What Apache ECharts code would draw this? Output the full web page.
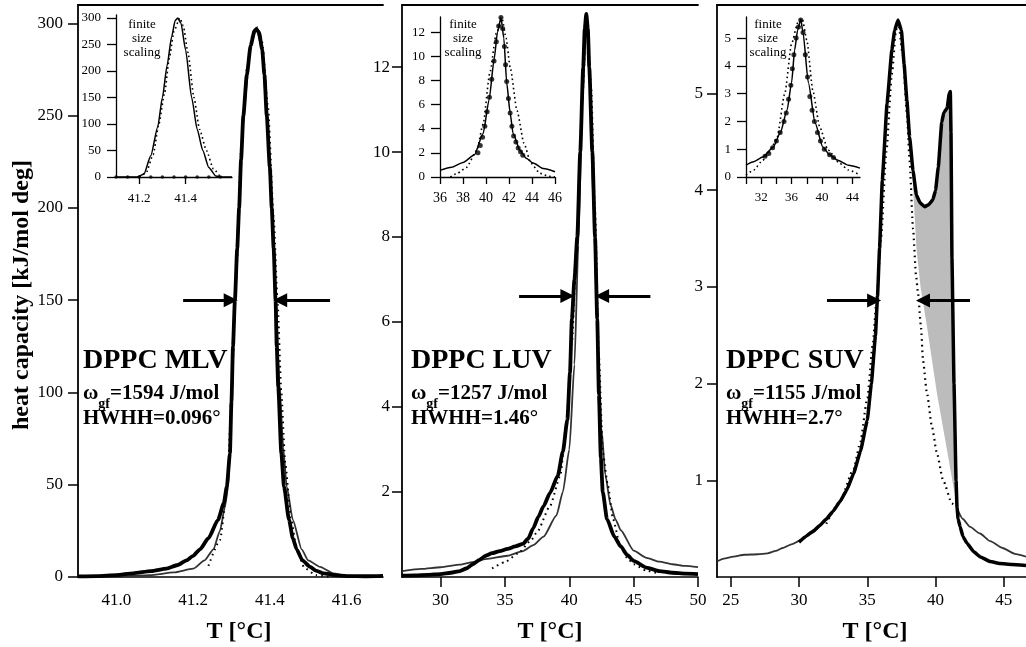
<!DOCTYPE html>
<html><head><meta charset="utf-8">
<script src="https://cdn.jsdelivr.net/npm/echarts@6/dist/echarts.min.js"></script>
<style>html,body{margin:0;padding:0;background:#fff}#c{width:1026px;height:647px}</style>
</head><body><div id="c"></div>
<script>
// ---------------- DATA ----------------
// Panel 1: DPPC MLV  [T, cp]
const mlvExp = [[40.90,0.3],[40.95,0.5],[41.00,1.0],[41.044,2.0],[41.09,3.2],[41.131,4.5],[41.16,6.5],[41.183,9],[41.20,11.5],[41.218,15],[41.24,21],[41.265,31],[41.28,40],[41.288,49],[41.296,67],[41.30,95],[41.304,125],[41.309,150],[41.315,178],[41.32,200],[41.325,226],[41.331,250],[41.34,272],[41.35,288],[41.36,296],[41.365,297],[41.372,295],[41.38,286],[41.386,272],[41.392,250],[41.40,222],[41.405,200],[41.41,178],[41.415,150],[41.418,125],[41.422,103],[41.43,67],[41.437,49],[41.45,31],[41.46,21],[41.47,15],[41.485,9],[41.505,5.5],[41.52,3.5],[41.54,2],[41.57,1],[41.60,0.5],[41.65,0.4],[41.695,0.6]];
const mlvFit = [[40.90,0],[41.00,0.2],[41.088,1],[41.15,2.5],[41.20,4.5],[41.23,9],[41.253,15],[41.27,25],[41.283,38],[41.292,50],[41.30,90],[41.309,150],[41.32,205],[41.331,250],[41.35,288],[41.365,297],[41.38,286],[41.392,250],[41.405,205],[41.415,155],[41.425,105],[41.435,70],[41.444,49],[41.46,31],[41.483,15],[41.50,9],[41.531,5.5],[41.565,2],[41.60,0.7],[41.695,0.2]];
const mlvModel = [[41.24,6],[41.27,20],[41.29,50],[41.30,100],[41.312,160],[41.325,230],[41.34,275],[41.355,294],[41.368,298],[41.38,290],[41.395,255],[41.41,195],[41.42,150],[41.43,100],[41.44,62],[41.455,32],[41.47,15],[41.49,5],[41.52,1],[41.56,0]];
const mlvArrows = [[41.174,150,41.298,150],[41.557,150,41.427,150]];

// Panel 2: DPPC LUV
const luvExp = [[27,0.03],[28,0.04],[29,0.05],[30,0.07],[30.8,0.1],[31.5,0.14],[32,0.2],[32.5,0.3],[33,0.4],[33.5,0.5],[34,0.56],[34.6,0.61],[35.2,0.66],[35.8,0.72],[36.4,0.78],[36.8,0.9],[37.2,1.15],[37.6,1.42],[38,1.67],[38.5,1.98],[39.1,2.38],[39.5,2.95],[39.85,3.7],[40.05,4.8],[40.2,6.07],[40.4,7.0],[40.62,8],[40.85,10],[41.08,12],[41.2,12.9],[41.32,13.25],[41.44,12.9],[41.55,12],[41.79,10],[42.0,8],[42.17,6.07],[42.3,4.3],[42.45,2.8],[42.6,2.0],[42.93,1.36],[43.5,0.95],[44,0.72],[44.5,0.52],[45,0.38],[46,0.22],[47,0.14],[48,0.1],[49,0.08],[50,0.07]];
const luvFit = [[27,0.14],[28.5,0.19],[30,0.23],[31.5,0.29],[32.5,0.35],[33.5,0.42],[35.2,0.5],[36.4,0.61],[37.2,0.75],[38,0.95],[39,1.45],[39.5,2.0],[40,3.0],[40.4,5.0],[40.7,7.8],[41.0,11],[41.32,13.2],[41.6,11.5],[41.9,8.5],[42.2,5.6],[42.5,3.5],[42.8,2.4],[43.2,1.7],[43.6,1.35],[44,1.1],[45,0.62],[46,0.45],[47,0.36],[48,0.3],[49,0.26],[50,0.23]];
const luvModel = [[34,0.2],[35,0.35],[36,0.55],[37,0.85],[37.5,1.06],[38.5,1.67],[39.3,2.38],[39.8,3.7],[40.2,5.5],[40.6,8],[41.0,11.2],[41.35,13.2],[41.7,11.5],[42.0,8.6],[42.3,5.2],[42.6,2.94],[43.0,2.15],[43.4,1.36],[43.96,0.73],[44.5,0.45],[45,0.3],[46,0.15],[47,0.08]];
const luvArrows = [[36.1,6.61,39.85,6.61],[46.3,6.61,42.55,6.61]];

// Panel 3: DPPC SUV
const suvExp = [[30.0,0.36],[30.5,0.42],[31,0.47],[31.5,0.53],[32,0.6],[32.5,0.68],[33,0.78],[33.5,0.9],[34,1.07],[34.5,1.3],[35,1.62],[35.3,2.0],[35.6,2.5],[35.75,2.9],[35.9,3.4],[36.1,4.1],[36.45,4.9],[36.8,5.45],[37.0,5.65],[37.25,5.76],[37.5,5.65],[37.7,5.3],[37.9,4.93],[38.1,4.55],[38.35,4.2],[38.6,3.95],[38.86,3.87],[39.2,3.83],[39.5,3.85],[39.8,3.9],[40.0,4.0],[40.2,4.24],[40.45,4.7],[40.6,4.8],[40.85,4.85],[41.0,5.0],[41.08,5.02],[41.13,4.6],[41.2,3.3],[41.35,2.0],[41.5,1.0],[41.57,0.72],[41.65,0.6],[41.8,0.52],[42.0,0.42],[42.3,0.35],[42.8,0.26],[43.25,0.21],[44,0.16],[44.7,0.14],[45.6,0.13],[46.62,0.12]];
const suvFitLeft = [[24,0.16],[24.5,0.19],[25.2,0.21],[26,0.23],[27,0.235],[27.7,0.245],[28.3,0.27],[28.8,0.3],[29.5,0.34],[30.1,0.38],[31,0.46],[32,0.59],[33,0.77],[33.5,0.89],[34,1.06],[34.5,1.29],[35,1.62],[35.3,2.0],[35.6,2.5]];
const suvFitRight = [[41.57,0.71],[42,0.6],[42.5,0.52],[43.25,0.45],[44,0.37],[44.9,0.3],[45.8,0.24],[46.62,0.21]];
const suvModel = [[32,0.55],[33,0.78],[34,1.12],[34.5,1.4],[35,1.85],[35.4,2.4],[35.7,2.9],[36,3.5],[36.4,4.4],[36.8,5.2],[37.1,5.65],[37.25,5.76],[37.6,5.4],[37.9,4.8],[38.1,4.3],[38.35,3.6],[38.57,3.12],[38.71,2.94],[38.93,2.59],[39.08,2.24],[39.37,1.9],[39.74,1.55],[40.1,1.28],[40.55,1.0],[41.2,0.76],[41.57,0.71]];
const suvPeakEdge = [[37.9,4.93],[38.1,4.5],[38.35,4.05],[38.6,3.4],[38.9,3.0],[39.37,2.59],[40.1,1.9],[40.84,1.31],[41.57,0.72]];
const suvArrows = [[32.05,2.86,35.5,2.86],[42.52,2.86,39.08,2.86]];

// Insets (finite size scaling)
const in1Line = [[41.10,0],[41.19,0],[41.22,5],[41.25,40],[41.28,95],[41.30,150],[41.32,210],[41.34,265],[41.355,295],[41.366,300],[41.38,290],[41.40,240],[41.426,150],[41.45,90],[41.474,50],[41.50,18],[41.53,2],[41.56,0],[41.60,0]];
const in1Model = [[41.20,0],[41.23,8],[41.26,42],[41.285,100],[41.31,160],[41.33,225],[41.35,275],[41.375,300],[41.39,285],[41.41,235],[41.436,150],[41.46,90],[41.49,50],[41.52,15],[41.55,0]];
const in1Points = [[41.10,0],[41.15,0],[41.20,0],[41.25,0],[41.30,0],[41.35,0],[41.40,0],[41.45,0],[41.50,0],[41.55,0]];
const in2Line = [[36,0.55],[37,0.8],[38,1.2],[39,1.85],[39.75,3.6],[40.27,6.4],[40.7,9.7],[41.0,12],[41.3,13.2],[41.55,11.5],[41.8,7.8],[42.1,5.3],[42.35,3.6],[42.96,2.2],[43.5,1.55],[44.1,1.15],[45,0.7],[46,0.43]];
const in2Model = [[36.9,0],[37.5,0.3],[38.3,0.8],[39.2,2.2],[39.75,4.4],[40.33,8.6],[40.9,11.9],[41.4,13.1],[41.75,11.5],[42.1,9.1],[42.7,5.5],[43.3,2.8],[43.9,1.15],[44.7,0.3],[45.5,0.05],[46,0]];
const in2Points = [[39.3,2.0],[39.5,2.6],[39.7,3.3],[39.9,4.2],[40.1,5.4],[40.3,6.6],[40.5,8.1],[40.7,9.6],[40.9,11.2],[41.1,12.5],[41.3,13.2],[41.45,12.3],[41.6,10.8],[41.7,9.3],[41.8,7.9],[41.95,6.5],[42.1,5.3],[42.25,4.2],[42.4,3.4],[42.6,2.9],[42.8,2.4],[43.0,2.1],[43.2,1.8]];
const in3Line = [[30,0.43],[31,0.55],[32.2,0.72],[33.6,1.08],[34.5,1.58],[35.4,2.4],[36,3.4],[36.4,4.57],[36.8,5.3],[37.2,5.68],[37.5,5.2],[38.2,3.4],[39.1,1.94],[40.1,1.08],[41,0.8],[42,0.61],[43.5,0.42],[45,0.32]];
const in3Model = [[30,0.07],[31,0.25],[32.2,0.6],[33.2,0.95],[34.07,1.4],[35.1,3.0],[36,4.8],[36.8,5.55],[37.4,5.7],[38,4.93],[38.8,3.1],[39.7,1.8],[40.8,0.97],[42.3,0.5],[43.5,0.25],[45,0.07]];
const in3Points = [[32.5,0.75],[33,0.85],[33.5,1.05],[34,1.3],[34.5,1.6],[35,2.0],[35.3,2.3],[35.6,2.8],[35.9,3.3],[36.1,3.9],[36.3,4.4],[36.6,5.0],[36.9,5.4],[37.2,5.65],[37.5,5.2],[37.8,4.4],[38.1,3.6],[38.4,2.9],[38.7,2.4],[39.0,2.0],[39.4,1.6],[39.8,1.3],[40.3,1.0],[41.0,0.8],[41.5,0.7]];

// Tick labels
const mlvXTicks = [41.0,41.2,41.4,41.6];
const mlvYTicks = [0,50,100,150,200,250,300];
const luvXTicks = [30,35,40,45,50];
const luvYTicks = [2,4,6,8,10,12];
const suvXTicks = [25,30,35,40,45];
const suvYTicks = [1,2,3,4,5];
const in1XTicks = [41.2,41.4];
const in1YTicks = [0,50,100,150,200,250,300];
const in2XTicks = [36,38,40,42,44,46];
const in2YTicks = [0,2,4,6,8,10,12];
const in3XTicks = [30,32,34,36,38,40,42,44];
const in3XLabels = [32,36,40,44];
const in3YTicks = [0,1,2,3,4,5];

// ---------------- CHART ----------------
const FF = '"Liberation Serif", "Times New Roman", serif';
const chart = echarts.init(document.getElementById('c'));

function mkX(grid, min, max, tickVals, labelVals, opt) {
  opt = opt || {};
  return {
    type:'value', gridIndex:grid, min:min, max:max, position:'bottom',
    axisLine:{show:true, onZero:false, lineStyle:{color:'#000', width:opt.lw||1.5}},
    axisTick:{show:!!tickVals, customValues:tickVals||[], length:opt.tl||10, lineStyle:{color:'#000', width:opt.lw||1.5}},
    axisLabel:{show:true, customValues:labelVals, margin:opt.margin||15, color:'#000', fontFamily:FF, fontSize:opt.fs||17,
      formatter: opt.fmt || (v => String(v))},
    splitLine:{show:false}
  };
}
function mkTop(grid, min, max) {
  return {type:'value', gridIndex:grid, min:min, max:max, position:'top',
    axisLine:{show:true, onZero:false, lineStyle:{color:'#000', width:1.8}},
    axisTick:{show:false}, axisLabel:{show:false}, splitLine:{show:false}};
}
function mkY(grid, min, max, vals, opt) {
  opt = opt || {};
  return {
    type:'value', gridIndex:grid, min:min, max:max,
    axisLine:{show:true, onZero:false, lineStyle:{color:'#000', width:opt.lw||1.8}},
    axisTick:{show:true, customValues:vals, length:opt.tl||10, lineStyle:{color:'#000', width:opt.lw||1.5}},
    axisLabel:{show:true, customValues:vals, margin:opt.margin||15, color:'#000', fontFamily:FF, fontSize:opt.fs||17},
    splitLine:{show:false}
  };
}
function ln(xi, yi, data, color, width, type, z, smooth) {
  return {type:'line', xAxisIndex:xi, yAxisIndex:yi, data:data, showSymbol:false, symbol:'none',
    smooth: smooth === undefined ? 0.2 : smooth, smoothMonotone:'x', silent:true, z:z,
    lineStyle:{color:color, width:width, type:type||'solid'}};
}
function dots(xi, yi, data, size) {
  return {type:'scatter', xAxisIndex:xi, yAxisIndex:yi, data:data, symbol:'circle', symbolSize:size,
    itemStyle:{color:'#000'}, silent:true, z:6};
}
function arrowLine(xi, yi, arr) {
  return {type:'line', xAxisIndex:xi, yAxisIndex:yi, data:[], silent:true, z:8,
    markLine:{silent:true, animation:false, symbol:['none','triangle'], symbolSize:14,
      label:{show:false}, lineStyle:{color:'#000', width:3, type:'solid'},
      itemStyle:{color:'#000'},
      emphasis:{disabled:true},
      data: arr.map(a => [{coord:[a[0],a[1]]},{coord:[a[2],a[3]]}])}};
}
const DOT = [1.6, 4];

const option = {
  animation:false,
  backgroundColor:'#fff',
  textStyle:{fontFamily:FF},
  grid:[
    {left:78, top:5, width:305, height:572},
    {left:402, top:5, width:296, height:572},
    {left:717, top:5, width:309, height:572},
    {left:116, top:15, width:116, height:162},
    {left:440, top:17, width:115, height:160},
    {left:746, top:17, width:114, height:160}
  ],
  xAxis:[
    Object.assign(mkX(0, 40.9, 41.695, null, mlvXTicks, {fmt:v=>v.toFixed(1)}), {axisTick:{show:false}}),
    mkX(1, 27, 50, luvXTicks, luvXTicks),
    mkX(2, 24, 46.62, suvXTicks, suvXTicks),
    mkTop(0, 40.9, 41.695), mkTop(1, 27, 50), mkTop(2, 24, 46.62),
    mkX(3, 41.1, 41.6, in1XTicks, in1XTicks, {fs:13, tl:7, lw:1.3, margin:15, fmt:v=>v.toFixed(1)}),
    mkX(4, 36, 46, in2XTicks, in2XTicks, {fs:14, tl:7, lw:1.3, margin:14}),
    mkX(5, 30, 45, in3XTicks, in3XLabels, {fs:13, tl:7, lw:1.3, margin:14})
  ],
  yAxis:[
    mkY(0, 0, 310, mlvYTicks),
    mkY(1, 0, 13.46, luvYTicks, {margin:12}),
    mkY(2, 0, 5.915, suvYTicks, {margin:14}),
    mkY(3, 0, 305.6, in1YTicks, {fs:13, tl:9, lw:1.3, margin:15}),
    mkY(4, 0, 13.25, in2YTicks, {fs:13, tl:9, lw:1.3, margin:15}),
    mkY(5, 0, 5.76, in3YTicks, {fs:13, tl:9, lw:1.3, margin:15})
  ],
  series:[
    // panel 1
    ln(0,0, mlvFit, '#333', 1.8, 'solid', 2),
    ln(0,0, mlvModel, '#000', 2, DOT, 3),
    ln(0,0, mlvExp, '#000', 3.8, 'solid', 4),
    arrowLine(0,0, mlvArrows),
    // panel 2
    ln(1,1, luvFit, '#333', 1.8, 'solid', 2),
    ln(1,1, luvModel, '#000', 2, DOT, 3),
    ln(1,1, luvExp, '#000', 3.8, 'solid', 4),
    arrowLine(1,1, luvArrows),
    // panel 3
    {type:'custom', xAxisIndex:2, yAxisIndex:2, data:[[39,3]], silent:true, z:1, clip:true,
      renderItem:function(params, api){
        const lo = suvPeakEdge[0][0], hi = suvPeakEdge[suvPeakEdge.length-1][0];
        const upper = suvExp.filter(p => p[0] >= lo && p[0] <= hi);
        const pts = upper.map(p => api.coord(p)).concat(suvPeakEdge.slice().reverse().map(p => api.coord(p)));
        return {type:'polygon', shape:{points:pts}, style:{fill:'#bcbcbc', stroke:null}};
      }},
    ln(2,2, suvFitLeft, '#333', 1.8, 'solid', 2),
    ln(2,2, suvFitRight, '#333', 1.8, 'solid', 2),
    ln(2,2, suvModel, '#000', 2.2, DOT, 3),
    ln(2,2, suvExp, '#000', 3.5, 'solid', 4, 0.1),
    arrowLine(2,2, suvArrows),
    // insets
    ln(6,3, in1Line, '#000', 1.5, 'solid', 5),
    ln(6,3, in1Model, '#000', 1.6, [1.6,3], 5),
    dots(6,3, in1Points, 3.5),
    ln(7,4, in2Line, '#000', 1.5, 'solid', 5),
    ln(7,4, in2Model, '#000', 1.6, [1.6,3], 5),
    dots(7,4, in2Points, 5),
    ln(8,5, in3Line, '#000', 1.5, 'solid', 5),
    ln(8,5, in3Model, '#000', 1.6, [1.6,3], 5),
    dots(8,5, in3Points, 5)
  ],
  graphic:[
    {type:'text', x:22, y:295, rotation:Math.PI/2, style:{text:'heat capacity [kJ/mol deg]', font:'bold 24px ' + FF, fill:'#000', align:'center', verticalAlign:'middle', textAlign:'center', textVerticalAlign:'middle'}},
    {type:'text', x:239, y:632, style:{text:'T [°C]', font:'bold 24px ' + FF, fill:'#000', align:'center', verticalAlign:'middle', textAlign:'center', textVerticalAlign:'middle'}},
    {type:'text', x:550, y:632, style:{text:'T [°C]', font:'bold 24px ' + FF, fill:'#000', align:'center', verticalAlign:'middle', textAlign:'center', textVerticalAlign:'middle'}},
    {type:'text', x:875, y:632, style:{text:'T [°C]', font:'bold 24px ' + FF, fill:'#000', align:'center', verticalAlign:'middle', textAlign:'center', textVerticalAlign:'middle'}}
  ].concat(
    [[83,'DPPC MLV','1594 J/mol','HWHH=0.096°'],[411,'DPPC LUV','1257 J/mol','HWHH=1.46°'],[726,'DPPC SUV','1155 J/mol','HWHH=2.7°']].flatMap(t => [
      {type:'text', x:t[0], y:361, z:20, style:{text:t[1], font:'bold 28px ' + FF, fill:'#000', align:'left', verticalAlign:'middle', textAlign:'left', textVerticalAlign:'middle'}},
      {type:'text', x:t[0], y:383, z:20, style:{text:'{a|ω}{b|gf}{a|=' + t[2] + '}', fill:'#000', align:'left', verticalAlign:'top', textAlign:'left', textVerticalAlign:'top',
        rich:{a:{font:'bold 21px ' + FF, lineHeight:20, verticalAlign:'top', fill:'#000'}, b:{font:'bold 14px ' + FF, lineHeight:14, padding:[14,0,0,0], verticalAlign:'top', fill:'#000'}}}},
      {type:'text', x:t[0], y:419, z:20, style:{text:t[3], font:'bold 21px ' + FF, fill:'#000', align:'left', verticalAlign:'middle', textAlign:'left', textVerticalAlign:'middle'}}
    ]),
    [142, 463, 768].map(cx => ({type:'text', x:cx, y:18, z:20, style:{text:'finite\nsize\nscaling', font:'13px ' + FF, lineHeight:14, fill:'#000', align:'center', verticalAlign:'top', textAlign:'center', textVerticalAlign:'top'}}))
  )
};
chart.setOption(option);
</script></body></html>
